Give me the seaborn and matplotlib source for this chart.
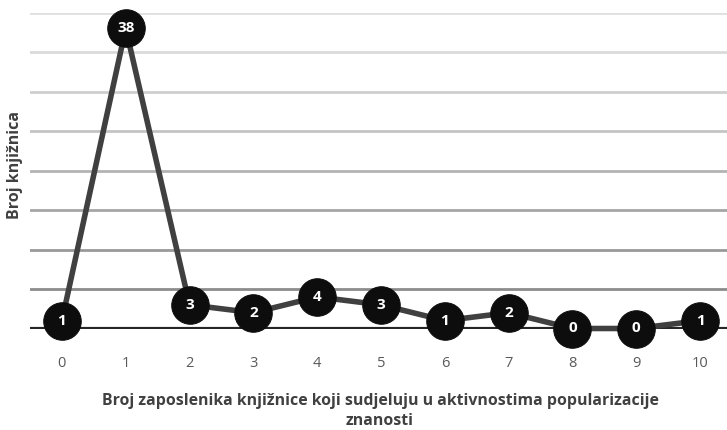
import matplotlib
matplotlib.use("Agg")
import matplotlib.pyplot as plt
import seaborn as sns
import pandas as pd

categories = [0, 1, 2, 3, 4, 5, 6, 7, 8, 9, 10]
values = [1, 38, 3, 2, 4, 3, 1, 2, 0, 0, 1]
grid_levels = [5, 10, 15, 20, 25, 30, 35, 40]
grid_colors = ["#8c8c8c", "#999999", "#a6a6a6", "#b3b3b3", "#c4c4c4", "#cfcfcf", "#dadada", "#e0e0e0"]
xlabel_lines = ["Broj zaposlenika knjižnice koji sudjeluju u aktivnostima popularizacije", "znanosti"]
ylabel = "Broj knjižnica"

sns.set_style("white")
plt.rcParams["font.family"] = ["Open Sans", "DejaVu Sans"]

df = pd.DataFrame({"x": categories, "y": values})

fig = plt.figure(figsize=(7.27, 4.30), dpi=100)
left, right, top, bottom = 30, 732, 12.7, 328.5
ax = fig.add_axes([left / 727, (430 - bottom) / 430, (right - left) / 727, (bottom - top) / 430])

for lvl, c in zip(grid_levels, grid_colors):
    ax.axhline(lvl, color=c, lw=2, zorder=0)
ax.axhline(0, color="#262626", lw=3, zorder=1)

sns.lineplot(data=df, x="x", y="y", ax=ax, color="#404040", lw=4,
             marker="o", markersize=27, markerfacecolor="#0d0d0d",
             markeredgecolor="#0d0d0d", zorder=3, clip_on=False)

for xv, yv in zip(categories, values):
    ax.text(xv, yv, str(yv), ha="center", va="center", color="white",
            fontsize=11, fontweight="bold", zorder=5)

ax.set_xlim(-0.5, 10.5)
ax.set_ylim(0, 40)
ax.set_xticks(categories)
ax.set_xticklabels([str(c) for c in categories], color="#595959", fontsize=10.5)
ax.tick_params(axis="x", length=0, pad=20)
ax.set_yticks([])
for s in ax.spines.values():
    s.set_visible(False)
ax.set_xlabel("")
ax.set_ylabel("")

for line, yp in zip(xlabel_lines, [401, 421]):
    fig.text(380 / 727, 1 - yp / 430, line, ha="center", va="center",
             fontsize=11.4, fontweight="bold", color="#404040")
fig.text(15 / 727, 1 - 165 / 430, ylabel, ha="center", va="center",
         rotation=90, fontsize=11.5, fontweight="bold", color="#404040")

fig.savefig("out.png", dpi=100)
